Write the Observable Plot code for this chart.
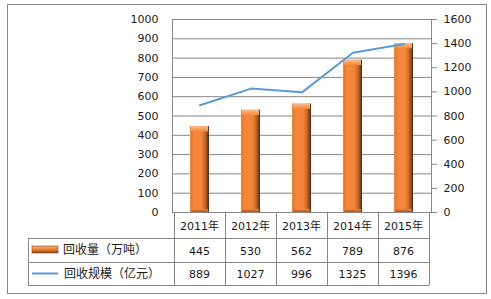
<!DOCTYPE html>
<html>
<head>
<meta charset="utf-8">
<script src="https://cdn.jsdelivr.net/npm/d3@7"></script>
<script src="https://cdn.jsdelivr.net/npm/@observablehq/plot@0.6"></script>
<style>
  html, body { margin: 0; padding: 0; background: #fff; }
</style>
</head>
<body>
<div id="chart"></div>
<script>
const years = ["2011年", "2012年", "2013年", "2014年", "2015年"];
const recycleVolume = [445, 530, 562, 789, 876];      // 回收量（万吨）
const recycleScale = [889, 1027, 996, 1325, 1396];    // 回收规模（亿元）
const leftTicks = [0, 100, 200, 300, 400, 500, 600, 700, 800, 900, 1000];
const rightTicks = [0, 200, 400, 600, 800, 1000, 1200, 1400, 1600];
const seriesNames = ["回收量（万吨）", "回收规模（亿元）"];

const leftMax = 1000, rightMax = 1600;
const ratio = rightMax / leftMax;
const data = years.map((year, i) => ({ year, vol: recycleVolume[i], scale: recycleScale[i] }));

const GRID = "#868686";
const LINE = "#5B9BD5";

const plot = Plot.plot({
  width: 491,
  height: 299,
  marginLeft: 172,
  marginRight: 60,
  marginTop: 19,
  marginBottom: 87,
  style: { fontFamily: "DejaVu Sans, Verdana, sans-serif", fontSize: "11px", background: "#fff", color: "#222" },
  x: { domain: years, padding: 0, axis: null },
  y: { domain: [0, leftMax] },
  marks: [
    Plot.gridY(leftTicks, { stroke: GRID, strokeOpacity: 1 }),
    Plot.frame({ stroke: GRID }),
    Plot.axisY(leftTicks, { anchor: "left", tickSize: 0, tickPadding: 14, fill: "#1a1a1a", label: null, tickFormat: d => String(d) }),
    Plot.axisY(rightTicks.map(t => t / ratio), {
      anchor: "right", tickSize: 5, tickPadding: 7, stroke: GRID, fill: "#1a1a1a", label: null,
      tickFormat: d => String(Math.round(d * ratio))
    }),
    Plot.barY(data, { x: "year", y: "vol", fill: "url(#barGrad)", insetLeft: 16, insetRight: 16 }),
    Plot.barY(data, { x: "year", y1: d => d.vol - 28, y2: "vol", fill: "url(#capGrad)", insetLeft: 17, insetRight: 17 }),
    Plot.barY(data, { x: "year", y1: 0, y2: 16, fill: "url(#botGrad)", insetLeft: 17, insetRight: 17 }),
    Plot.lineY(data, { x: "year", y: d => d.scale / ratio, stroke: LINE, strokeWidth: 2 })
  ]
});

const svg = d3.select(plot);
const defs = svg.insert("defs", ":first-child");
function grad(id, stops, vertical) {
  const g = defs.append("linearGradient").attr("id", id)
    .attr("x1", "0").attr("x2", vertical ? "0" : "1").attr("y1", "0").attr("y2", vertical ? "1" : "0");
  stops.forEach(([o, c]) => g.append("stop").attr("offset", o).attr("stop-color", c));
}
grad("barGrad", [["0%", "#d49a72"], ["7%", "#e47a30"], ["22%", "#f5873a"], ["60%", "#f3853a"], ["80%", "#cc651e"], ["92%", "#874010"], ["100%", "#56280a"]]);
grad("capGrad", [["0%", "#fbbf8e"], ["100%", "#f5873a"]], true);
grad("botGrad", [["0%", "#f3853a"], ["100%", "#b35618"]], true);
grad("legGrad", [["0%", "#f7b07a"], ["45%", "#f08838"], ["100%", "#8a4312"]], true);

// Data table drawn from the plot's own scales
const xs = plot.scale("x");
const ys = plot.scale("y");
const bw = xs.bandwidth;
const xEnd = xs.apply(years[years.length - 1]) + bw;
const yAxis = ys.apply(0);
const rowY = [yAxis, yAxis + 26, yAxis + 50, yAxis + 73];
const tableLeft = 28;

const tbl = svg.append("g").attr("stroke", GRID).attr("stroke-width", 1);
[1, 2, 3].forEach(k => {
  tbl.append("line").attr("x1", tableLeft).attr("x2", xEnd).attr("y1", rowY[k] + 0.5).attr("y2", rowY[k] + 0.5);
});
tbl.append("line").attr("x1", tableLeft + 0.5).attr("x2", tableLeft + 0.5).attr("y1", rowY[1]).attr("y2", rowY[3]);
years.forEach(y => {
  const xl = Math.round(xs.apply(y)) + 0.5;
  tbl.append("line").attr("x1", xl).attr("x2", xl).attr("y1", rowY[0]).attr("y2", rowY[3]);
});
tbl.append("line").attr("x1", Math.round(xEnd) + 0.5).attr("x2", Math.round(xEnd) + 0.5).attr("y1", rowY[0]).attr("y2", rowY[3]);

const txt = svg.append("g").attr("fill", "#1a1a1a").attr("font-family", "DejaVu Sans, Verdana, sans-serif").attr("font-size", "11px").attr("text-anchor", "middle");
years.forEach((y, i) => {
  const cx = xs.apply(y) + bw / 2;
  txt.append("text").attr("x", cx).attr("y", (rowY[0] + rowY[1]) / 2 + 1).attr("dy", "0.36em")
     .attr("font-family", "DejaVu Sans, 'Noto Sans CJK SC', sans-serif").text(y);
  txt.append("text").attr("x", cx).attr("y", (rowY[1] + rowY[2]) / 2 + 1).attr("dy", "0.36em").text(recycleVolume[i]);
  txt.append("text").attr("x", cx).attr("y", (rowY[2] + rowY[3]) / 2 + 1).attr("dy", "0.36em").text(recycleScale[i]);
});

// Legend keys inside the table
const leg = svg.append("g").attr("text-anchor", "start");
const r1 = (rowY[1] + rowY[2]) / 2, r2 = (rowY[2] + rowY[3]) / 2;
leg.append("rect").attr("x", 32).attr("y", r1 - 4).attr("width", 26).attr("height", 7).attr("fill", "url(#legGrad)").attr("stroke", "#8a4312").attr("stroke-width", 0.6);
leg.append("line").attr("x1", 32).attr("x2", 58).attr("y1", r2).attr("y2", r2).attr("stroke", LINE).attr("stroke-width", 2);
leg.append("text").attr("x", 63).attr("y", r1).attr("dy", "0.36em").attr("fill", "#1a1a1a")
   .attr("font-family", "'Noto Sans CJK SC', sans-serif").attr("font-size", "12px").text(seriesNames[0]);
leg.append("text").attr("x", 64).attr("y", r2).attr("dy", "0.36em").attr("fill", "#1a1a1a")
   .attr("font-family", "'Noto Sans CJK SC', sans-serif").attr("font-size", "12px").text(seriesNames[1]);

// Outer chart border
svg.append("rect").attr("x", 7.5).attr("y", 4.5).attr("width", 479).attr("height", 289)
   .attr("fill", "none").attr("stroke", GRID);

document.getElementById("chart").appendChild(plot);
</script>
</body>
</html>
